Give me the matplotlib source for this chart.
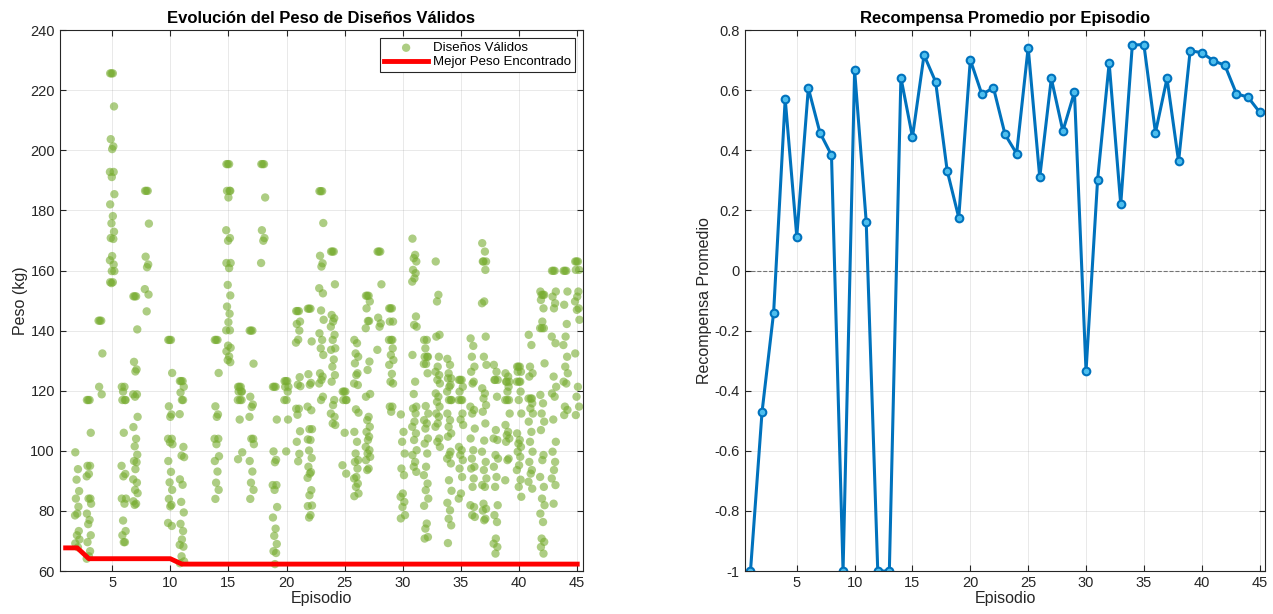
import numpy as np
import matplotlib
matplotlib.use("Agg")
import matplotlib.pyplot as plt

plt.rcParams['font.family'] = ['Liberation Sans', 'DejaVu Sans']
plt.rcParams['axes.unicode_minus'] = False

# ---- datos: peso de diseños válidos por episodio (kg) ----
pesos_ep02 = [99.5, 93.9, 90.4, 86.6, 84.1, 81.4, 79.1, 78.5, 73.3, 71.9, 70.5, 69.2, 67.9]
pesos_ep03 = [116.9, 116.9, 116.9, 106.0, 95.0, 95.0, 92.3, 91.5, 84.1, 84.1, 82.4, 79.1, 77.0,
              75.6, 71.9, 69.6, 66.6, 64.9, 64.1]
pesos_ep04 = [143.3, 143.3, 143.3, 132.4, 121.3, 118.8]
pesos_ep05 = [225.6, 225.6, 225.6, 214.6, 203.7, 201.3, 200.4, 192.8, 192.8, 191.1, 185.4, 182.0,
              178.1, 175.7, 172.9, 170.8, 170.5, 164.8, 163.4, 162.0, 159.8, 159.8, 156.1, 156.1, 155.8]
pesos_ep06 = [121.3, 121.3, 119.7, 116.9, 116.9, 116.9, 106.0, 95.0, 92.3, 91.5, 84.1, 84.1, 82.4,
              76.8, 73.3, 71.9, 69.6, 69.6]
pesos_ep07 = [151.4, 151.4, 151.4, 140.4, 129.6, 127.1, 126.4, 118.8, 118.8, 118.0, 111.3, 107.9,
              104.0, 101.5, 98.7, 96.6, 96.2, 93.9, 90.5, 89.4, 87.0, 85.9, 83.2, 82.4, 82.0]
pesos_ep08 = [186.5, 186.5, 186.5, 175.6, 164.6, 162.0, 161.1, 153.8, 152.0, 146.4]
pesos_ep10 = [136.9, 136.9, 136.9, 125.9, 114.8, 112.1, 111.3, 104.0, 104.0, 102.8, 102.2, 96.6,
              93.0, 89.5, 87.0, 84.0, 82.0, 81.5, 76.0, 75.0]
pesos_ep11 = [123.2, 123.2, 123.2, 121.3, 119.4, 116.9, 116.9, 112.2, 101.3, 98.4, 97.9, 90.5,
              88.7, 83.0, 79.5, 75.7, 73.3, 70.5, 68.7, 68.1, 64.9, 63.2, 62.6]
pesos_ep14 = [136.9, 136.9, 136.9, 125.9, 114.8, 112.1, 111.3, 104.0, 104.0, 102.2, 98.2, 96.6,
              93.1, 89.4, 87.0, 84.0]
pesos_ep15 = [195.4, 195.4, 195.4, 186.5, 186.5, 186.5, 184.3, 173.4, 170.8, 169.9, 162.5, 162.5,
              160.8, 155.2, 151.7, 148.0, 145.6, 142.8, 140.1, 140.1, 135.0, 134.3, 133.1, 131.4,
              130.2, 129.5]
pesos_ep16 = [121.3, 121.3, 121.3, 119.7, 119.7, 119.7, 116.9, 116.9, 116.9, 110.4, 99.5, 97.2]
pesos_ep17 = [140.0, 140.0, 140.0, 129.0, 118.0, 115.4, 114.6, 111.3, 104.0, 104.0, 102.2, 96.6,
              93.1, 89.4, 87.0, 84.0]
pesos_ep18 = [195.4, 195.4, 195.4, 184.3, 173.4, 170.8, 169.9, 162.5]
pesos_ep19 = [121.3, 121.3, 121.3, 110.4, 99.8, 97.0, 96.2, 88.6, 88.6, 87.0, 81.3, 77.8, 74.1,
              71.7, 69.0, 66.6, 66.0, 62.3]
pesos_ep20 = [123.2, 123.2, 123.2, 121.3, 121.3, 119.7, 116.9, 116.9, 110.4, 99.8]
pesos_ep21 = [146.5, 146.5, 146.5, 143.0, 142.2, 140.0, 137.0, 136.0, 124.5, 122.0, 121.5, 114.0,
              114.0, 112.0, 106.5, 103.0, 99.0, 96.5]
pesos_ep22 = [147.3, 147.3, 147.3, 136.4, 125.5, 122.6, 122.0, 114.7, 113.5, 107.2, 107.2, 103.8,
              103.6, 100.1, 97.6, 94.7, 92.9, 92.4, 91.0, 86.9, 85.2, 81.8, 81.6, 78.6, 77.8]
pesos_ep23 = [186.4, 186.4, 186.4, 175.8, 164.9, 162.4, 161.3, 154.1, 152.4, 146.7, 143.6, 139.1,
              136.9, 134.1, 131.9, 125.8, 124.7, 123.6, 122.4, 118.0, 116.9]
pesos_ep24 = [166.3, 166.3, 166.3, 155.4, 145.2, 144.1, 143.0, 141.3, 138.6, 136.9, 134.1, 133.6,
              130.4, 128.0, 125.2, 123.0, 116.9, 115.2, 112.4, 111.3, 109.1, 108.6]
pesos_ep25 = [119.7, 119.7, 119.7, 116.9, 116.9, 116.9, 106.0, 95.2, 92.4]
pesos_ep26 = [136.9, 135.8, 132.4, 131.3, 129.1, 125.8, 125.2, 122.4, 121.9, 113.8, 112.7, 106.3,
              103.0, 99.1, 96.9, 96.3, 94.1, 91.3, 90.8, 89.1, 88.0, 85.8, 84.9]
pesos_ep27 = [151.6, 151.6, 151.6, 149.7, 147.4, 143.2, 143.2, 140.8, 129.7, 126.9, 118.9, 118.0,
              111.3, 110.2, 108.0, 106.3, 104.7, 103.6, 101.3, 100.2, 99.1, 98.0, 96.9, 94.1, 93.6]
pesos_ep28 = [166.3, 166.3, 166.3, 155.4, 144.3, 142.4, 141.3, 133.6]
pesos_ep29 = [147.4, 147.4, 147.4, 143.0, 143.0, 136.9, 136.9, 136.9, 134.1, 131.9, 130.2, 128.6,
              125.6, 123.0, 122.4, 114.7, 114.7, 113.0]
pesos_ep30 = [112.1, 106.3, 103.0, 99.1, 94.1, 91.9, 85.8, 84.7, 83.0, 81.3, 78.6, 77.5]
pesos_ep31 = [170.6, 165.2, 164.1, 163.0, 160.2, 159.1, 157.4, 156.3, 144.7, 141.9, 141.3, 131.9,
              123.0, 118.9, 114.7, 114.1, 112.4, 109.7, 108.0, 105.8, 103.6, 100.2, 98.6, 96.3,
              94.7, 93.0]
pesos_ep32 = [136.9, 136.9, 134.1, 131.3, 131.3, 131.3, 128.9, 128.9, 125.8, 114.9, 112.4, 110.2,
              109.1, 107.4, 104.1, 102.4, 99.1, 94.7, 91.9, 89.1, 86.9, 84.1, 81.7, 75.8, 74.1,
              71.3, 70.8]
pesos_ep33 = [163.0, 151.9, 149.7, 138.6, 138.0, 131.3, 128.0, 126.3, 125.2, 123.6, 122.4, 119.1,
              118.0, 116.3, 114.7, 112.4, 111.3, 109.1, 108.0, 104.1, 103.0, 101.3]
pesos_ep34 = [130.6, 128.6, 125.8, 124.1, 124.1, 121.9, 121.3, 119.7, 116.9, 116.9, 116.9, 112.4,
              110.2, 108.0, 105.8, 104.7, 99.7, 98.6, 97.4, 95.8, 90.2, 86.7, 82.7, 80.2, 77.4,
              75.2, 69.3]
pesos_ep35 = [123.6, 123.6, 123.6, 121.3, 119.7, 116.9, 116.9, 116.9, 112.4, 110.4, 108.6, 101.3,
              100.2, 98.6, 96.9, 94.1, 91.3, 85.8, 84.1]
pesos_ep36 = [137.4, 134.9, 131.3, 128.0, 126.3, 123.0, 122.4, 114.7, 113.6, 112.4, 107.4, 104.1,
              100.2, 97.4, 94.7, 94.1, 90.8, 88.0, 81.9, 81.3, 78.6, 78.0]
pesos_ep37 = [169.1, 166.3, 163.0, 163.0, 163.0, 160.2, 149.7, 149.1, 138.0, 131.3, 128.6, 120.8,
              119.1, 117.4, 115.2, 113.0, 109.1, 103.4, 99.7, 96.3, 93.6, 90.8, 88.6, 88.0, 82.4,
              80.7, 80.1, 77.4, 76.9]
pesos_ep38 = [128.6, 126.3, 123.6, 123.6, 123.6, 118.0, 106.9, 104.1, 103.6, 98.6, 97.4, 94.7,
              91.3, 88.0, 81.9, 78.6, 76.3, 70.8, 69.1, 68.0, 65.8]
pesos_ep39 = [125.8, 124.7, 123.0, 123.0, 123.0, 121.3, 119.7, 116.9, 116.9, 116.9, 112.4, 108.6,
              106.3, 105.2, 104.1, 103.0, 97.4, 96.9, 90.2]
pesos_ep40 = [128.0, 128.0, 128.0, 126.3, 126.3, 123.0, 123.0, 123.0, 119.7, 116.9, 112.4, 105.8,
              103.6, 102.4, 101.3, 99.7, 98.0, 95.2, 93.6, 90.4, 88.0, 84.7]
pesos_ep41 = [138.6, 135.2, 128.0, 125.8, 124.7, 117.4, 117.4, 117.4, 115.8, 114.1, 112.4, 109.7,
              106.3, 103.0, 99.7, 96.3, 93.6, 92.4, 89.7, 87.4]
pesos_ep42 = [153.0, 151.9, 151.9, 151.9, 150.2, 147.4, 143.0, 140.8, 140.8, 140.8, 129.1, 118.6,
              115.8, 112.4, 109.7, 106.9, 98.6, 96.9, 91.3, 88.0, 84.1, 81.9, 79.1, 76.3, 70.8,
              69.7, 68.0, 65.8]
pesos_ep43 = [159.9, 159.9, 159.9, 153.0, 151.3, 149.1, 147.4, 138.0, 135.8, 124.7, 121.3, 119.1,
              118.0, 110.4, 103.0, 99.7, 96.3, 93.6, 90.8, 88.6, 82.4]
pesos_ep44 = [159.9, 159.9, 159.9, 153.0, 148.6, 142.2, 138.0, 135.2, 131.3, 128.0, 125.8, 123.0,
              122.4, 114.7, 113.6, 111.9]
pesos_ep45 = [163.0, 163.0, 163.0, 160.2, 160.2, 153.0, 151.3, 149.7, 147.4, 146.9, 143.6, 132.4,
              121.3, 118.0, 114.7, 111.9]

# mejor peso encontrado hasta cada episodio (kg)
mejor_peso = [67.7, 67.7] + [64.1] * 8 + [62.3] * 35

# recompensa promedio por episodio
recompensa = [-1.0, -0.47, -0.14, 0.571, 0.113, 0.607, 0.459, 0.384, -1.0, 0.666,
              0.163, -1.0, -1.0, 0.642, 0.444, 0.717, 0.628, 0.332, 0.176, 0.701,
              0.586, 0.608, 0.453, 0.389, 0.742, 0.310, 0.639, 0.464, 0.594, -0.335,
              0.302, 0.690, 0.220, 0.750, 0.752, 0.459, 0.639, 0.363, 0.731, 0.725,
              0.698, 0.683, 0.588, 0.577, 0.527]

pesos_por_ep = {2: pesos_ep02, 3: pesos_ep03, 4: pesos_ep04, 5: pesos_ep05, 6: pesos_ep06,
                7: pesos_ep07, 8: pesos_ep08, 10: pesos_ep10, 11: pesos_ep11, 14: pesos_ep14,
                15: pesos_ep15, 16: pesos_ep16, 17: pesos_ep17, 18: pesos_ep18, 19: pesos_ep19,
                20: pesos_ep20, 21: pesos_ep21, 22: pesos_ep22, 23: pesos_ep23, 24: pesos_ep24,
                25: pesos_ep25, 26: pesos_ep26, 27: pesos_ep27, 28: pesos_ep28, 29: pesos_ep29,
                30: pesos_ep30, 31: pesos_ep31, 32: pesos_ep32, 33: pesos_ep33, 34: pesos_ep34,
                35: pesos_ep35, 36: pesos_ep36, 37: pesos_ep37, 38: pesos_ep38, 39: pesos_ep39,
                40: pesos_ep40, 41: pesos_ep41, 42: pesos_ep42, 43: pesos_ep43, 44: pesos_ep44,
                45: pesos_ep45}

# desplazamiento horizontal fijo para separar puntos (jitter visual)
desp = [-0.17, 0.06, -0.06, 0.16, -0.12, 0.10, 0.0, -0.19, 0.13, -0.03, 0.19]

xs, ys = [], []
for ep, vals in pesos_por_ep.items():
    for i, v in enumerate(vals):
        xs.append(ep + desp[i % len(desp)])
        ys.append(v)

episodios = np.arange(1, len(recompensa) + 1)

verde = (0.466, 0.674, 0.188)
azul = (0.0, 0.447, 0.741)
texto = (0.15, 0.15, 0.15)

fig = plt.figure(figsize=(12.73, 6.14), dpi=100)
ax1 = fig.add_axes([0.047, 0.070, 0.411, 0.881])
ax2 = fig.add_axes([0.585, 0.070, 0.409, 0.881])

def estilo(ax):
    ax.grid(True, color='gray', alpha=0.2, linewidth=0.6)
    ax.set_axisbelow(True)
    ax.tick_params(direction='in', top=True, right=True, labelsize=10.5,
                   colors=texto, length=4)
    for s in ax.spines.values():
        s.set_color(texto)
        s.set_linewidth(0.8)

# --- izquierda ---
ax1.scatter(xs, ys, s=36, color=verde, alpha=0.6, edgecolors='none', label='Diseños Válidos')
ax1.plot(episodios, mejor_peso, color='red', linewidth=3.5, label='Mejor Peso Encontrado')
ax1.set_xlim(0.5, 45.5)
ax1.set_ylim(60, 240)
ax1.set_xticks(range(5, 46, 5))
ax1.set_yticks(range(60, 241, 20))
estilo(ax1)
ax1.set_title('Evolución del Peso de Diseños Válidos', fontsize=12, fontweight='bold',
              color='black', pad=5)
ax1.set_xlabel('Episodio', fontsize=11.5, color=texto, labelpad=1)
ax1.set_ylabel('Peso (kg)', fontsize=11.5, color=texto, labelpad=2)
leg = ax1.legend(loc='upper right', fontsize=9.5, fancybox=False, framealpha=1,
                 edgecolor=texto, borderpad=0.3, handlelength=3.3, handletextpad=0.4,
                 labelspacing=0.15, borderaxespad=0.6)
leg.get_frame().set_linewidth(0.8)

# --- derecha ---
ax2.axhline(0, color='black', linestyle='--', linewidth=0.8, alpha=0.5)
ax2.plot(episodios, recompensa, color=azul, linewidth=2.2, marker='o', markersize=5.5,
         markerfacecolor=(0.30, 0.745, 0.933), markeredgecolor=azul, markeredgewidth=1.5)
ax2.set_xlim(0.5, 45.5)
ax2.set_ylim(-1, 0.8)
ax2.set_xticks(range(5, 46, 5))
yt = np.round(np.arange(-1.0, 0.81, 0.2), 1)
ax2.set_yticks(yt)
ax2.set_yticklabels(['%g' % (v + 0.0) if abs(v) > 1e-9 else '0' for v in yt])
estilo(ax2)
ax2.set_title('Recompensa Promedio por Episodio', fontsize=12, fontweight='bold',
              color='black', pad=5)
ax2.set_xlabel('Episodio', fontsize=11.5, color=texto, labelpad=1)
ax2.set_ylabel('Recompensa Promedio', fontsize=11.5, color=texto, labelpad=2)

fig.savefig('out.png', dpi=100)
